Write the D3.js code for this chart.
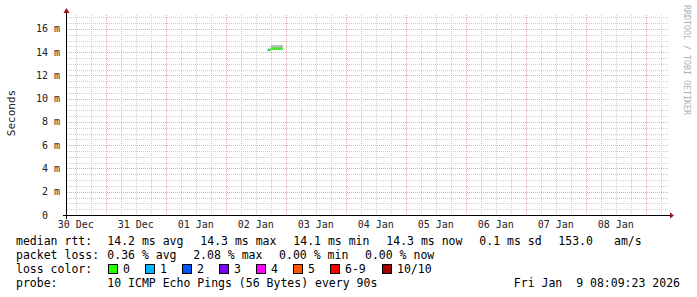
<!DOCTYPE html>
<html><head><meta charset="utf-8">
<script src="https://cdn.jsdelivr.net/npm/d3@7"></script>
<style>
html,body{margin:0;padding:0;background:#fff;}
svg{display:block;}
text{font-family:"DejaVu Sans Mono",monospace;}
</style></head>
<body>
<svg id="c" width="697" height="297"></svg>
<script>
// ---- data ----
const hours = [16.8,17.2,17.6,18.0,18.4,18.8,19.2,19.6,20.0,20.4,20.8,21.2,21.6,22.0,22.4]; // hours after 02 Jan 00:00 UTC
const medianMs = [14.1,14.1,14.1,14.2,14.2,14.2,14.2,14.2,14.2,14.2,14.2,14.2,14.2,14.2,14.2];
const lossCount = [2,0,0,0,0,0,0,0,0,0,0,1,0,0,0];
const smokeLowMs = [14.1,14.1,14.1,14.2,14.2,14.2,14.2,14.2,14.2,14.2,14.2,14.2,14.2,14.2,14.2];
const smokeHighMs = [14.2,14.25,14.3,14.6,14.6,14.65,14.6,14.6,14.65,14.65,14.6,14.6,14.65,14.65,14.6];
const yTicks = [0,2,4,6,8,10,12,14,16];
const dayLabels = ["30 Dec","31 Dec","01 Jan","02 Jan","03 Jan","04 Jan","05 Jan","06 Jan","07 Jan","08 Jan"];
const lossColors = ["#26ff00","#00b8ff","#0059ff","#7e00ff","#ff00ff","#ff5500","#ff0000","#a00000"];
const lossLabels = ["0","1","2","3","4","5","6-9","10/10"];
const rttLegend = ["14.2 ms avg","14.3 ms max","14.1 ms min","14.3 ms now","0.1 ms sd"];
const lossLegend = ["0.36 % avg","2.08 % max","0.00 % min","0.00 % now"];
const ampsLegend = ["153.0","am/s"];
const probeText = "10 ICMP Echo Pings (56 Bytes) every 90s";
const stampText = "Fri Jan  9 08:09:23 2026";

const svg = d3.select("#c");
const L=67, R=667, T=15, B=215;
const t0 = Date.UTC(2025,11,30,8,30), t1 = Date.UTC(2026,0,9,8,30);
const x = d3.scaleUtc().domain([t0,t1]).range([L,R]);
const y = d3.scaleLinear().domain([0,17.2]).range([B,T]);
const jan2 = Date.UTC(2026,0,2);
const pts = hours.map((h,i)=>({t:jan2+h*3600e3, m:medianMs[i], l:lossCount[i], lo:smokeLowMs[i], hi:smokeHighMs[i]}));
const stepMs = 0.4*3600e3;

// grid
const g = svg.append("g");
const minorH = d3.range(0,17.2,0.5).filter(v=>v%2!==0);
g.selectAll(".hm").data(minorH).join("line").attr("x1",L).attr("x2",R+1)
 .attr("y1",d=>Math.round(y(d))+0.5).attr("y2",d=>Math.round(y(d))+0.5)
 .attr("stroke","#cfcfcf").attr("stroke-dasharray","1,1");
const minorV = d3.utcHour.every(6).range(new Date(t0),new Date(t1)).filter(d=>d.getUTCHours()!==0);
g.selectAll(".vm").data(minorV).join("line").attr("y1",T).attr("y2",B)
 .attr("x1",d=>Math.round(x(d))+0.5).attr("x2",d=>Math.round(x(d))+0.5)
 .attr("stroke","#cfcfcf").attr("stroke-dasharray","1,1");
g.selectAll(".hM").data(yTicks.filter(v=>v>0)).join("line").attr("x1",L).attr("x2",R+1)
 .attr("y1",d=>Math.round(y(d))+0.5).attr("y2",d=>Math.round(y(d))+0.5)
 .attr("stroke","#e8a8a8").attr("stroke-dasharray","1,1");
const majorV = d3.utcDay.range(new Date(t0),new Date(t1));
g.selectAll(".vM").data(majorV).join("line").attr("y1",T).attr("y2",B)
 .attr("x1",d=>Math.round(x(d))+0.5).attr("x2",d=>Math.round(x(d))+0.5)
 .attr("stroke","#e8a8a8").attr("stroke-dasharray","1,1");

// smoke
const smoke = d3.area().curve(d3.curveStepAfter).x(d=>x(d.t)).y0(d=>y(d.lo)).y1(d=>y(d.hi));
const ext = pts.concat([{...pts[pts.length-1], t:pts[pts.length-1].t+stepMs}]);
svg.append("path").datum(ext).attr("d",smoke).attr("fill","#b8b8b8");
// median band colored by loss
const band = 0.2;
svg.selectAll(".med").data(pts).join("rect")
 .attr("x",d=>x(d.t)).attr("width",d=>x(d.t+stepMs)-x(d.t))
 .attr("y",d=>y(d.m+band)).attr("height",d=>y(d.m)-y(d.m+band))
 .attr("fill",d=>lossColors[d.l]);

// axes
svg.append("line").attr("x1",63).attr("x2",670).attr("y1",B+0.5).attr("y2",B+0.5).attr("stroke","#000");
svg.append("line").attr("x1",L-0.5).attr("x2",L-0.5).attr("y1",B+4).attr("y2",11).attr("stroke","#000");
svg.append("path").attr("d",`M670,${B-2.5}L674,${B+0.5}L670,${B+3.5}Z`).attr("fill","#a01010");
svg.append("path").attr("d",`M${L-3.5},13L${L-0.5},8L${L+2.5},13Z`).attr("fill","#a01010");

// y labels
svg.selectAll(".yl").data(yTicks).join("text")
 .attr("x",d=>d===0?48:60).attr("y",d=>y(d)).attr("dy","0.35em")
 .attr("text-anchor","end").attr("font-size","10px").attr("fill","#222")
 .attr("xml:space","preserve").text(d=>d===0?"0":d+" m");
// x labels (centered at noon of each day)
const fmt = d3.utcFormat("%d %b");
const noons = d3.utcHour.every(12).range(new Date(t0),new Date(t1)).filter(d=>d.getUTCHours()===12);
svg.selectAll(".xl").data(noons.filter(d=>dayLabels.includes(fmt(d)))).join("text")
 .attr("x",d=>x(d)).attr("y",228).attr("text-anchor","middle").attr("font-size","10px").attr("fill","#222")
 .text(d=>fmt(d));

// axis title
svg.append("text").attr("transform","translate(15,113) rotate(-90)").attr("text-anchor","middle")
 .attr("font-size","11px").attr("fill","#222").text("Seconds");
// watermark
svg.append("text").attr("transform","translate(684,5) rotate(90)").attr("text-anchor","start")
 .attr("font-size","8.3px").attr("fill","#b0b0b0").text("RRDTOOL / TOBI OETIKER");

// legend
const fs="11.5px";
const leg = svg.append("g").attr("font-size",fs).attr("fill","#000");
leg.append("text").attr("x",16).attr("y",245).text("median rtt:");
rttLegend.forEach((s,i)=>leg.append("text").attr("x",107.3+i*93).attr("y",245).text(s));
leg.append("text").attr("x",558.3).attr("y",245).text(ampsLegend[0]);
leg.append("text").attr("x",614).attr("y",245).text(ampsLegend[1]);
leg.append("text").attr("x",16).attr("y",259).text("packet loss:");
lossLegend.forEach((s,i)=>leg.append("text").attr("x",107.3+i*85.9).attr("y",259).text(s));
leg.append("text").attr("x",16).attr("y",273).text("loss color:");
const boxX = [108,145,182,219,256,293,330,382];
lossColors.forEach((c,i)=>{
  leg.append("rect").attr("x",boxX[i]+0.5).attr("y",264.5).attr("width",9).attr("height",9).attr("fill",c).attr("stroke","#000");
  leg.append("text").attr("x",boxX[i]+15).attr("y",273).text(lossLabels[i]);
});
leg.append("text").attr("x",16).attr("y",287).text("probe:");
leg.append("text").attr("x",107.3).attr("y",287).text(probeText);
leg.append("text").attr("x",680).attr("y",287).attr("text-anchor","end").attr("xml:space","preserve").text(stampText);
</script>
</body></html>
